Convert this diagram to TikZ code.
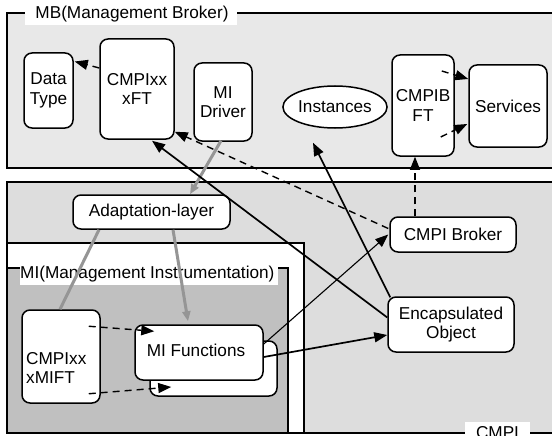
\documentclass[tikz,border=0pt]{standalone}
\usepackage{fontspec}
\setmainfont{Liberation Sans}
\usetikzlibrary{arrows.meta,calc,shapes.geometric}
\definecolor{mbgray}{HTML}{E8E8E8}
\definecolor{cmpigray}{HTML}{DDDDDD}
\definecolor{migray}{HTML}{C0C0C0}
\definecolor{linkgray}{HTML}{959595}
\begin{document}
\begin{tikzpicture}[x=1pt,y=-1pt,
  font=\fontsize{17.2}{19.5}\selectfont,
  layer/.style={draw=black, line width=1.5pt},
  box/.style={draw=black, line width=1.5pt, rounded corners=8pt, fill=white,
    align=center, inner sep=0pt},
  oval/.style={draw=black, line width=1.5pt, ellipse, fill=white, inner sep=0pt},
  txt/.style={inner sep=0pt, align=center},
  bigtip/.style={-{Triangle[length=13pt,width=10pt]}},
  dashline/.style={line width=1.4pt, dash pattern=on 7pt off 5pt},
  solidthick/.style={line width=1.7pt},
  solidthin/.style={line width=1.1pt},
  grayline/.style={draw=linkgray, line width=3pt}
]
\useasboundingbox (0,0) rectangle (552,436);
\fill[white] (0,0) rectangle (552,436);

% layers
\draw[layer, fill=mbgray] (7,13) rectangle (560,168);
\draw[layer, fill=cmpigray] (7,182) rectangle (560,433);
\draw[layer, fill=white] (7,243) rectangle (304,433);
\draw[layer, fill=migray] (7,268) rectangle (288,433);

% layer labels
\fill[white] (25,0) rectangle (237,25);
\node[txt] (mblabel) at (132,14.5) {MB(Management Broker)};
\fill[white] (20,258) rectangle (278,285);
\node[txt, anchor=west] (milabel) at (20,274) {MI(Management Instrumentation)};
\fill[white] (465,422) rectangle (530,440);
\node[txt] (cmpilabel) at (497.5,433) {CMPI};

% MB nodes
\node[box, minimum width=49pt, minimum height=75pt] (data) at (48.5,90.5) {Data\\Type};
\node[box, minimum width=74pt, minimum height=100pt] (cfx) at (137,89) {CMPIxx\\xFT};
\node[box, minimum width=58pt, minimum height=78pt] (mid) at (223,102) {MI\\Driver};
\node[oval, minimum width=102pt, minimum height=42pt] (inst) at (335,107) {Instances};
\node[box, minimum width=62pt, minimum height=101pt] (cbft) at (423,105.5) {CMPIB\\FT};
\node[box, minimum width=78pt, minimum height=82pt] (serv) at (508,106) {Services};

% CMPI nodes
\node[box, minimum width=157pt, minimum height=34pt] (adapt) at (151.5,212) {Adaptation-layer};
\node[box, minimum width=126pt, minimum height=35pt] (broker) at (453,234.5) {CMPI Broker};
\node[box, minimum width=126pt, minimum height=55pt] (enc) at (451,324.5) {Encapsulated\\Object};

% MI nodes
\node[box, minimum width=78pt, minimum height=93pt] (mift) at (61,356.5) {};
\node[txt, align=left, anchor=west] (mifttext) at (26,368) {CMPIxx\\xMIFT};
\node[box, minimum width=127pt, minimum height=55pt] (mfback) at (213.5,368.5) {};
\node[box, minimum width=128pt, minimum height=55pt] (mf) at (199,352.5) {};
\node[txt] (mftext) at (196,350) {MI Functions};

% gray links
\draw[grayline, -{Triangle[length=10pt,width=8pt,fill=linkgray]}]
  ($(mid.south)+(-2,-1)$) -- ($(adapt.north)+(38.5,0)$);
\draw[grayline] ($(adapt.south)+(-52.5,0)$) -- ($(mift.north)+(-1,0)$);
\draw[grayline, -{Triangle[length=10pt,width=8pt,fill=linkgray]}]
  ($(adapt.south)+(21.5,0)$) -- ($(mf.north)+(-11,-3)$);

% dashed links
\draw[dashline, bigtip] ($(cfx.west)+(0,-21)$) -- ($(data.east)+(1,-29)$);
\draw[dashline, bigtip] ($(broker.west)+(-1,-6)$) -- ($(cfx.south east)+(0,-8)$);
\draw[dashline, bigtip] ($(broker.north)+(-38,0)$) -- ($(cbft.south)+(-8,0)$);
\draw[dashline, bigtip] ($(cbft.east)+(-13,-34.5)$) -- ($(serv.west)+(0,-27)$);
\draw[dashline, bigtip] ($(cbft.east)+(-14,31.5)$) -- ($(serv.west)+(-1,18)$);
\draw[dashline, bigtip] ($(mift.north east)+(-12,17)$) -- ($(mf.north west)+(20,7)$);
\draw[dashline, bigtip] ($(mift.south east)+(-12,-10)$) -- ($(mfback.west)+(22,18.5)$);

% solid links
\draw[solidthick, bigtip] ($(enc.west)+(0,-7)$) -- ($(cfx.south)+(15,1)$);
\draw[solidthick, bigtip] ($(enc.north west)+(3,1)$) -- ($(inst.south)+(-22,14)$);
\draw[solidthin, bigtip] ($(mf.east)+(0,-8.5)$) -- ($(broker.west)+(-1,0)$);
\draw[solidthick, bigtip] ($(mf.east)+(0,4.5)$) -- ($(enc.west)+(0,10.5)$);
\end{tikzpicture}
\end{document}
